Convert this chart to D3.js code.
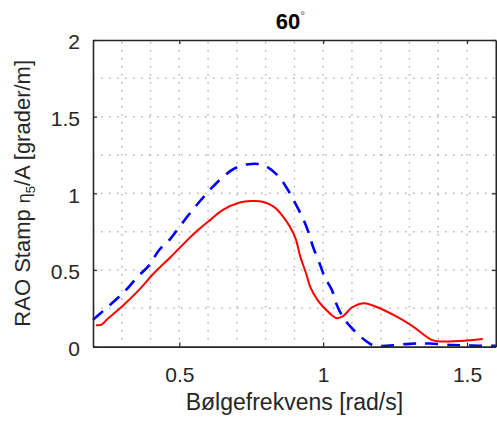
<!DOCTYPE html>
<html>
<head>
<meta charset="utf-8">
<script src="https://cdn.jsdelivr.net/npm/d3@7"></script>
<style>
  html, body { margin: 0; padding: 0; background: #fff; }
  svg { display: block; font-family: "Liberation Sans", Arial, Helvetica, sans-serif; }
</style>
</head>
<body>
<svg id="chart" width="497" height="425"></svg>
<script>
// Wave frequency samples [rad/s] and pitch RAO [deg/m], heading 60 deg
const redX = [0.21, 0.23, 0.25, 0.30, 0.36, 0.41, 0.47, 0.52, 0.565, 0.61, 0.65, 0.71, 0.75, 0.79, 0.83,
              0.86, 0.885, 0.905, 0.92, 0.94, 0.955, 0.98, 1.01, 1.03, 1.047, 1.07, 1.10, 1.14, 1.17,
              1.197, 1.256, 1.313, 1.377, 1.41, 1.45, 1.50, 1.555];
const redY = [0.14, 0.143, 0.18, 0.26, 0.37, 0.475, 0.585, 0.68, 0.76, 0.83, 0.89, 0.94, 0.95, 0.945, 0.91,
              0.85, 0.78, 0.70, 0.59, 0.48, 0.39, 0.305, 0.24, 0.205, 0.185, 0.20, 0.255, 0.283, 0.27,
              0.25, 0.195, 0.13, 0.044, 0.033, 0.035, 0.04, 0.05];

const blueX = [0.2, 0.24, 0.285, 0.32, 0.355, 0.395, 0.43, 0.465, 0.5, 0.535, 0.57, 0.61, 0.645, 0.69,
               0.74, 0.79, 0.84, 0.875, 0.9, 0.93, 0.95, 0.965, 0.99, 1.005, 1.03, 1.05, 1.075, 1.11,
               1.15, 1.175, 1.22, 1.30, 1.37, 1.45, 1.50, 1.55, 1.60];
const blueY = [0.175, 0.24, 0.315, 0.38, 0.455, 0.53, 0.63, 0.695, 0.78, 0.865, 0.945, 1.03, 1.095, 1.16,
               1.19, 1.185, 1.12, 1.03, 0.945, 0.835, 0.74, 0.65, 0.53, 0.455, 0.37, 0.26, 0.175, 0.10,
               0.035, 0.008, 0.005, 0.018, 0.02, 0.01, 0.008, 0.005, 0.005];

const xTicks = [0.5, 1, 1.5];
const yTicks = [0, 0.5, 1, 1.5, 2];
const xGrid = [0.3, 0.4, 0.5, 0.6, 0.7, 0.8, 0.9, 1.0, 1.1, 1.2, 1.3, 1.4, 1.5];
const yGrid = [0.25, 0.5, 0.75, 1, 1.25, 1.5, 1.75];

const svg = d3.select("#chart");
const padL = 93, padR = 495.8, padT = 40, padB = 346.6;

const x = d3.scaleLinear().domain([0.2, 1.6]).range([padL, padR]);
const y = d3.scaleLinear().domain([0, 2]).range([padB, padT]);

const axisColor = "#262626";
const tickFont = 21;
const labelFont = 23;

// dotted grid
const grid = svg.append("g");
grid.selectAll("line.gx").data(xGrid).join("line")
  .attr("x1", d => x(d)).attr("x2", d => x(d))
  .attr("y1", padT + 2).attr("y2", padB)
  .attr("stroke", "#b4b4b4").attr("stroke-width", 1.5)
  .attr("stroke-dasharray", "1.5,6.5");
grid.selectAll("line.gy").data(yGrid).join("line")
  .attr("x1", padL).attr("x2", padR)
  .attr("y1", d => y(d)).attr("y2", d => y(d))
  .attr("stroke", "#b4b4b4").attr("stroke-width", 1.5)
  .attr("stroke-dasharray", "1.5,6.5");

// curves
const pts = (xs, ys) => xs.map((v, i) => [v, ys[i]]);
const line = d3.line().x(d => x(d[0])).y(d => y(d[1])).curve(d3.curveCatmullRom.alpha(0.5));

svg.append("path")
  .attr("d", line(pts(blueX, blueY)))
  .attr("fill", "none").attr("stroke", "#0000ff").attr("stroke-width", 2.6)
  .attr("stroke-dasharray", "13,9");

svg.append("path")
  .attr("d", line(pts(redX, redY)))
  .attr("fill", "none").attr("stroke", "#ff0000").attr("stroke-width", 2);

// axes (box with inward ticks)
const xAxisB = d3.axisBottom(x).tickValues(xTicks).tickSizeInner(-4).tickSizeOuter(0).tickPadding(20)
  .tickFormat(d3.format("~g"));
const xAxisT = d3.axisTop(x).tickValues(xTicks).tickSizeInner(-4).tickSizeOuter(0).tickFormat("");
const yAxisL = d3.axisLeft(y).tickValues(yTicks).tickSizeInner(-4).tickSizeOuter(0).tickPadding(13)
  .tickFormat(d3.format("~g"));
const yAxisR = d3.axisRight(y).tickValues(yTicks).tickSizeInner(-4).tickSizeOuter(0).tickFormat("");

function style(g) {
  g.select(".domain").attr("stroke", axisColor).attr("stroke-width", 1.6);
  g.selectAll(".tick line").attr("stroke", axisColor).attr("stroke-width", 1.2);
  g.selectAll(".tick text").attr("fill", axisColor)
    .attr("font-size", tickFont).attr("font-family", "Liberation Sans, Arial, sans-serif");
}
svg.append("g").attr("transform", `translate(0,${padB})`).call(xAxisB).call(style);
svg.append("g").attr("transform", `translate(0,${padT})`).call(xAxisT).call(style);
svg.append("g").attr("transform", `translate(${padL},0)`).call(yAxisL).call(style)
  .selectAll(".tick text").attr("dy", "0.42em");
svg.append("g").attr("transform", `translate(${padR},0)`).call(yAxisR).call(style);

// title
const title = svg.append("text")
  .attr("x", (padL + padR) / 2 - 4).attr("y", 29)
  .attr("text-anchor", "middle")
  .attr("font-size", 22).attr("font-weight", "bold").attr("fill", "#000");
title.append("tspan").text("60");
title.append("tspan").text("°").attr("font-size", 12).attr("font-weight", "normal")
  .attr("fill", "#555").attr("dy", -9);

// x label
svg.append("text")
  .attr("x", (padL + padR) / 2).attr("y", 410)
  .attr("text-anchor", "middle")
  .attr("font-size", labelFont).attr("fill", axisColor)
  .text("Bølgefrekvens [rad/s]");

// y label
const yl = svg.append("text")
  .attr("transform", `translate(30,${(padT + padB) / 2}) rotate(-90)`)
  .attr("text-anchor", "middle")
  .attr("font-size", 22).attr("fill", axisColor);
yl.append("tspan").text("RAO Stamp ");
yl.append("tspan").text("η").attr("font-size", 18);
yl.append("tspan").text("5").attr("font-size", 13).attr("dy", 5);
yl.append("tspan").text("/A [grader/m]").attr("dy", -5);
</script>
</body>
</html>
